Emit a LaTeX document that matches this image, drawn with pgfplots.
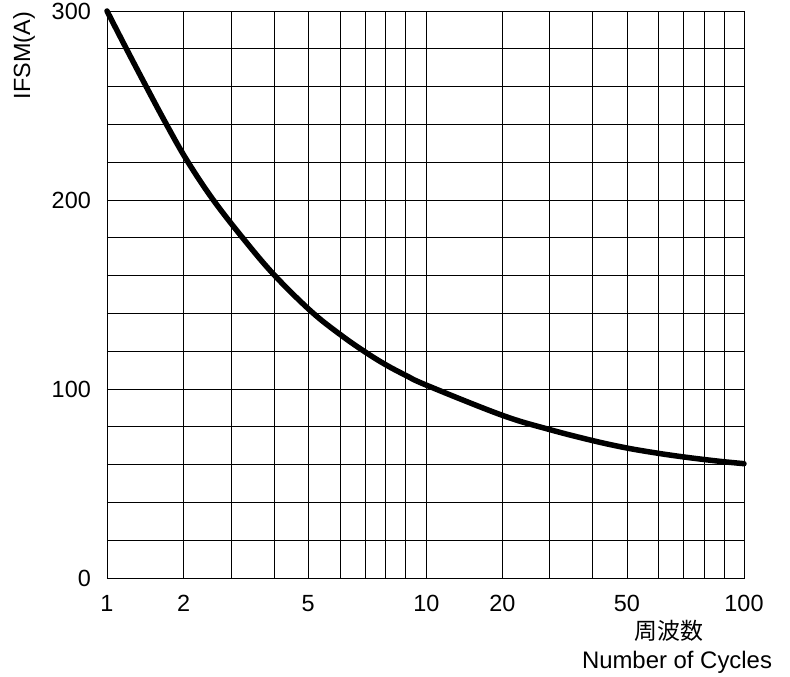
\documentclass[border=0pt]{standalone}
\usepackage{fontspec}
\setmainfont{Liberation Sans}
\newfontfamily\cjk{Noto Sans CJK JP}
\usepackage{pgfplots}
\pgfplotsset{compat=1.18}
\begin{document}
\begin{tikzpicture}
\begin{axis}[
  at={(0,0)}, anchor=south west,
  scale only axis,
  width=637bp, height=567bp,
  xmin=107.3, xmax=744, ymin=0, ymax=300,
  xtick={107.3,184,231.7,274.5,308.3,340.5,365.5,386,406,426.5,502.5,549.5,592.7,627,658,683,704,724,744},
  xticklabels={1,2,,,5,,,,,10,20,,,50,,,,,100},
  ytick={0,100,200,300},
  minor ytick={20,40,60,80,120,140,160,180,220,240,260,280},
  xmajorgrids, ymajorgrids, yminorgrids,
  major grid style={black, line width=0.8bp},
  minor grid style={black, line width=0.8bp},
  axis line style={black, line width=0.9bp},
  major tick length=0pt, minor tick length=0pt,
  tick style={draw=none},
  /pgf/number format/assume math mode=true,
  ticklabel style={font=\fontsize{23.5}{27}\selectfont, inner sep=0pt},
  xticklabel style={yshift=-17bp},
  yticklabel style={xshift=-16bp},
  clip=false,
]
\addplot[black, line width=5.5bp, smooth, tension=0.6, line cap=round] coordinates {
(107.3,300) (126.7,280) (146.7,259.8) (166,240.7) (186.7,221.4) (213,200.4)
(245,178.6) (275,160) (311.7,140.9) (340.7,128.7) (365,119.7) (386,112.8)
(406,107.2) (426.7,102) (502.3,86.1) (549.3,78.6) (592.7,72.7) (626.7,68.8)
(658,66) (683,64.1) (704,62.7) (724,61.5) (744,60.5)
};
\end{axis}
\node[rotate=90, anchor=east, inner sep=0pt, font=\fontsize{23.5}{27}\selectfont] at (-83bp,566bp) {IFSM(A)};
\node[anchor=center, inner sep=0pt, font=\fontsize{23}{27}\selectfont\cjk] at (562bp,-53bp) {周波数};
\node[anchor=base, inner sep=0pt, font=\fontsize{24}{28}\selectfont] at (570bp,-90bp) {Number of Cycles};
\pgfresetboundingbox
\path (-107bp,-99bp) rectangle (683bp,578bp);
\end{tikzpicture}
\end{document}
